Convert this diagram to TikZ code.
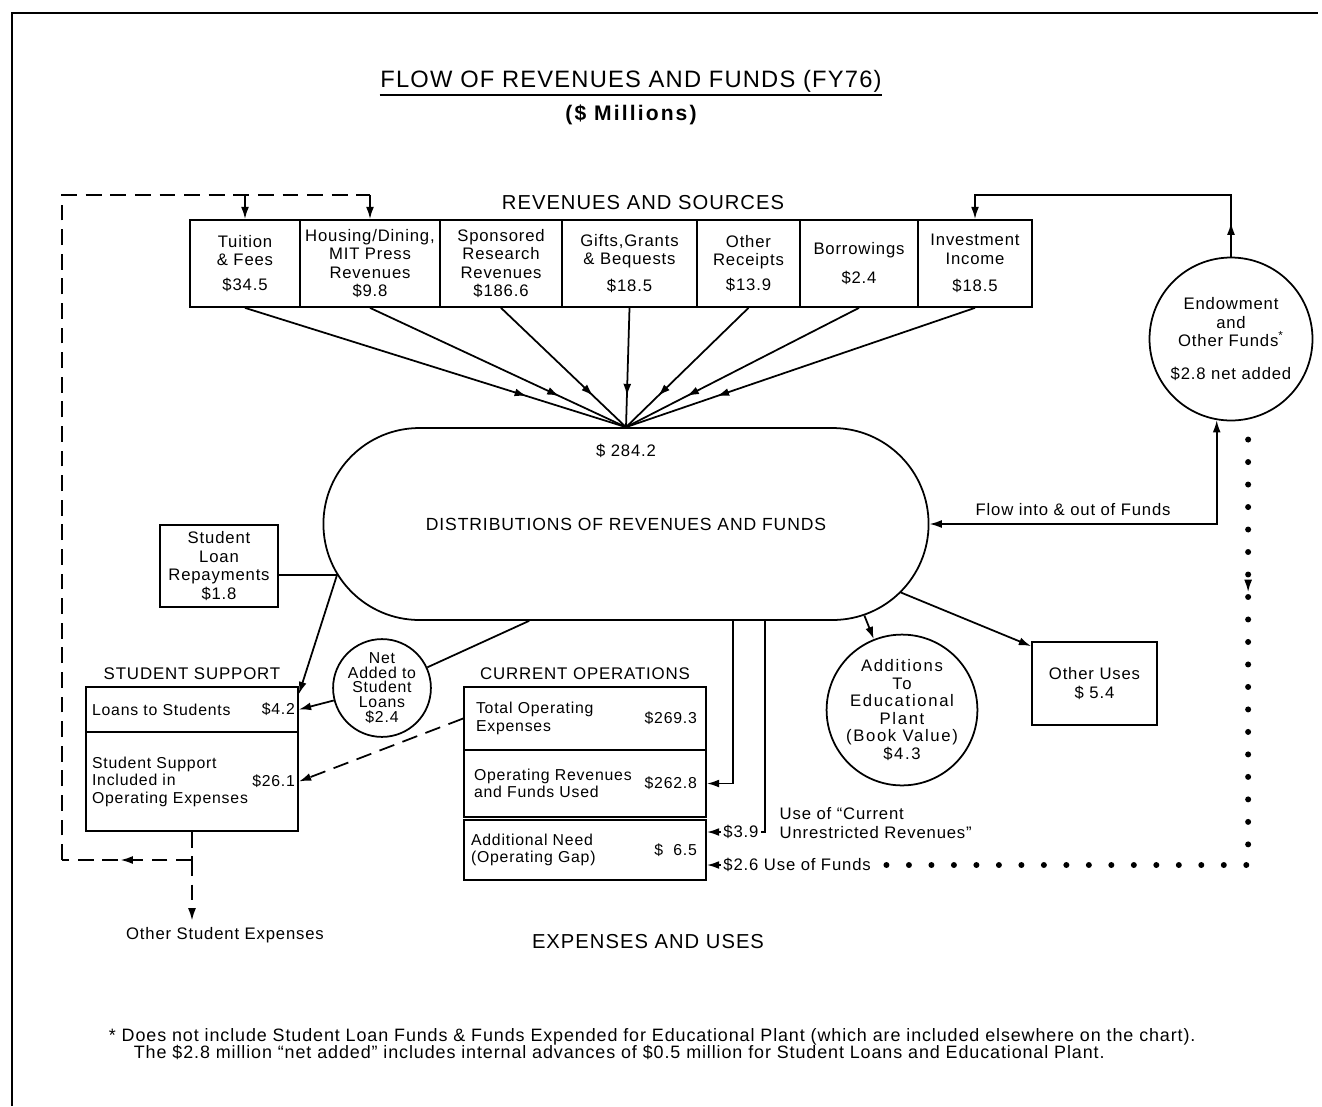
\documentclass[tikz,border=0pt]{standalone}
\usepackage{fontspec}
\setmainfont{Liberation Sans}[LetterSpace=5]
\usetikzlibrary{positioning, arrows.meta, shapes.misc, decorations.markings}

\begin{document}
\begin{tikzpicture}[x=0.02cm, y=-0.02cm, line width=1pt,
    >={Latex[length=7pt,width=4.5pt]},
    every node/.style={font=\fontsize{9.5}{10.5}\selectfont},
    revbox/.style={draw, inner sep=0pt, align=center, minimum height=1.74cm},
    rowbox/.style={draw, inner sep=0pt, minimum width=#1},
    rowtext/.style={inner sep=0pt, align=left, font=\fontsize{9}{10}\selectfont},
    heading/.style={font=\fontsize{11.5}{13}\selectfont},
    subhead/.style={font=\fontsize{9.6}{11}\selectfont},
    roundnode/.style={draw, circle, inner sep=0pt, align=center, minimum size=#1},
    midarrow/.style={postaction={decorate}, decoration={markings,
        mark=at position #1 with {\arrow{Latex[length=7pt,width=4.5pt]}}}},
    dashline/.style={dash pattern=on 9pt off 5pt},
    dotline/.style={line width=3.4pt, line cap=round, dash pattern=on 0pt off 12.8pt}
]
\useasboundingbox (0,0) rectangle (1322,1106);

% frame of the page
\draw[line width=1.6pt] (12,1106) -- (12,13) -- (1318,13);

% titles
\node[font=\fontsize{13.5}{15}\selectfont, inner sep=0pt, anchor=base] (title) at (631,87) {FLOW OF REVENUES AND FUNDS (FY76)};
\draw ([yshift=-4.5pt]title.base west) -- ([yshift=-4.5pt]title.base east);
\node[font=\bfseries\fontsize{12}{14}\selectfont\addfontfeature{LetterSpace=10}] (unit) at (631,115) {(\$ Millions)};
\node[heading] (revhead) at (643,203) {REVENUES AND SOURCES};
\node[heading] (exphead) at (648,942) {EXPENSES AND USES};

% revenues and sources
\node[revbox, minimum width=2.2cm] (tuition) at (245,263.5) {Tuition\\\& Fees\\[4pt]\$34.5};
\node[revbox, minimum width=2.8cm] (housing) at (370,263.5) {Housing/Dining,\\MIT Press\\Revenues\\\$9.8};
\node[revbox, minimum width=2.44cm] (research) at (501,263.5) {Sponsored\\Research\\Revenues\\\$186.6};
\node[revbox, minimum width=2.7cm] (gifts) at (629.5,263.5) {Gifts,Grants\\\& Bequests\\[5pt]\$18.5};
\node[revbox, minimum width=2.06cm] (receipts) at (748.5,263.5) {Other\\Receipts\\[4pt]\$13.9};
\node[revbox, minimum width=2.36cm] (borrow) at (859,263.5) {Borrowings\\[6pt]\$2.4};
\node[revbox, minimum width=2.28cm] (invest) at (975,263.5) {Investment\\Income\\[5pt]\$18.5};

% distributions
\node[draw, rounded rectangle, minimum width=12.34cm, minimum height=3.84cm, font=\fontsize{10}{12}\selectfont] (dist) at (626,524) {DISTRIBUTIONS OF REVENUES AND FUNDS};
\node[below=0.2cm of dist.north] (total) {\$ 284.2};

\foreach \src in {tuition, housing, research, gifts, receipts, borrow, invest}
    \draw[midarrow=0.74] (\src.south) -- (dist.north);

% endowment
\node[roundnode=3.26cm] (endow) at (1231,339) {Endowment\\and\\Other Funds\textsuperscript{*}\\[8pt]\$2.8 net added};
\draw[->, midarrow=0.1] (endow.north) -- (endow.north |- 0,195) -- (invest.north |- 0,195) -- (invest.north);
\draw[<->] (dist.east) -- (endow.260 |- dist.east) node[midway, above=1pt] (flow) {Flow into \& out of Funds} -- (endow.260);

% student side
\node[draw, minimum width=2.36cm, minimum height=1.64cm, align=center, inner sep=0pt] (repay) at (219,566) {Student\\Loan\\Repayments\\\$1.8};
\coordinate (rj) at (dist.190);
\draw (repay.east |- rj) -- (rj);

\node[rowbox=4.24cm, minimum height=0.9cm] (loans) at (192,709.5) {};
\node[rowbox=4.24cm, minimum height=1.98cm] (sincl) at (192,781.5) {};
\node[subhead, above=0pt of loans] (sshead) {STUDENT SUPPORT};
\node[rowtext, anchor=west] at ([xshift=0.12cm]loans.west) {Loans to Students};
\node[rowtext, anchor=east] at ([xshift=-0.06cm]loans.east) {\$4.2};
\node[rowtext, anchor=west] at ([xshift=0.12cm]sincl.west) {Student Support\\Included in\\Operating Expenses};
\node[rowtext, anchor=east] at ([xshift=-0.06cm]sincl.east) {\$26.1};

\draw[->] (rj) -- ([yshift=-0.16cm]loans.north east);
\node[roundnode=1.8cm, font=\fontsize{9}{8.3}\selectfont] (netadd) at (382,688) {Net\\Added to\\Student\\Loans\\\$2.4};
\draw (dist.225) -- (netadd);
\draw[->] (netadd) -- (loans.east);

% current operations
\node[rowbox=4.84cm, minimum height=1.26cm] (tope) at (585,718.5) {};
\node[rowbox=4.84cm, minimum height=1.34cm] (opfu) at (585,783.5) {};
\node[rowbox=4.84cm, minimum height=1.2cm] (gap) at (585,850) {};
\node[subhead, above=0pt of tope] (cohead) {CURRENT OPERATIONS};
\node[rowtext, anchor=west] at ([xshift=0.24cm]tope.west) {Total Operating\\Expenses};
\node[rowtext, anchor=east] at ([xshift=-0.18cm]tope.east) {\$269.3};
\node[rowtext, anchor=west] at ([xshift=0.2cm]opfu.west) {Operating Revenues\\and Funds Used};
\node[rowtext, anchor=east] at ([xshift=-0.18cm]opfu.east) {\$262.8};
\node[rowtext, anchor=west] at ([xshift=0.14cm]gap.west) {Additional Need\\(Operating Gap)};
\node[rowtext, anchor=east] at ([xshift=-0.18cm]gap.east) {\$\ \ 6.5};

\draw[dashline, ->] (tope.west) -- (sincl.east);

\draw[->] (733,0 |- dist.south) -- (733,0 |- opfu.east) -- (opfu.east);
\coordinate (g1) at (gap.east |- 0,832);
\node[anchor=west, inner sep=1pt] (s39) at ([xshift=0.28cm]g1) {\$3.9};
\draw[->] (s39.west) -- (g1);
\draw (765,0 |- dist.south) -- (765,0 |- s39.east) -- (s39.east);
\node[anchor=west, align=left] (usecur) at (773,823) {Use of ``Current\\Unrestricted Revenues''};

\coordinate (g2) at (gap.east |- 0,865);
\node[anchor=west, inner sep=1pt] (usefunds) at ([xshift=0.28cm]g2) {\$2.6 Use of Funds};
\draw[->] (usefunds.west) -- (g2);
\draw[dotline] ([yshift=-0.4cm]endow.282) -- (endow.282 |- usefunds.east) -- ([xshift=0.2cm]usefunds.east);
\draw[->] ([yshift=-3.2cm]endow.282) -- ([yshift=-3.45cm]endow.282);

% other uses
\node[roundnode=2.68cm, font=\fontsize{9.5}{10}\selectfont\addfontfeature{LetterSpace=10}] (addn) at (902,710) {Additions\\To\\Educational\\Plant\\(Book Value)\\\$4.3};
\draw[->] (dist.339) -- (addn);
\node[draw, minimum width=2.5cm, minimum height=1.66cm, align=center, inner sep=0pt] (ouses) at (1094.5,683.5) {Other Uses\\\$ 5.4};
\draw[->] (dist.346) -- ([yshift=-0.1cm]ouses.north west);

% dashed loop back to tuition and housing
\coordinate (split) at (sincl.south |- 0,860);
\coordinate (lb) at (62,860);
\coordinate (lt) at (62,195);
\node (ostud) at (225,935) {Other Student Expenses};
\draw[dashline] (sincl.south) -- (split);
\draw[dashline, ->] (split) -- (split |- ostud.north);
\draw[dashline, midarrow=0.55] (split) -- (lb);
\draw[dashline] (lb) -- (lt) -- (lt -| housing.north);
\draw[->] (lt -| tuition.north) -- (tuition.north);
\draw[->] (lt -| housing.north) -- (housing.north);

% footnote
\node[anchor=base west, inner sep=0pt, font=\fontsize{10.2}{12}\selectfont] (note1) at (108,1041) {* Does not include Student Loan Funds \& Funds Expended for Educational Plant (which are included elsewhere on the chart).};
\node[anchor=base west, inner sep=0pt, font=\fontsize{10.2}{12}\selectfont] (note2) at (133,1058) {The \$2.8 million ``net added'' includes internal advances of \$0.5 million for Student Loans and Educational Plant.};
\end{tikzpicture}
\end{document}
